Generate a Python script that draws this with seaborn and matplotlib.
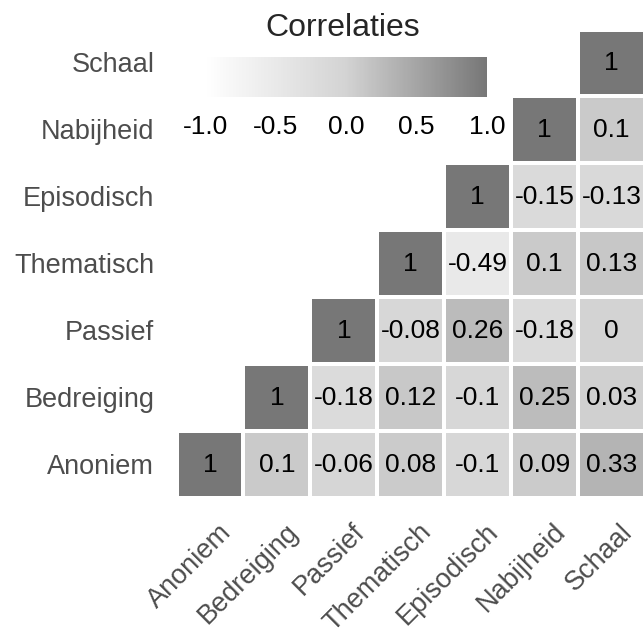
import numpy as np
import pandas as pd
import matplotlib
matplotlib.use("Agg")
import matplotlib.pyplot as plt
import seaborn as sns
from matplotlib.colors import LinearSegmentedColormap
from matplotlib.transforms import ScaledTranslation

# ---- data ----
variables = ["Anoniem", "Bedreiging", "Passief", "Thematisch",
             "Episodisch", "Nabijheid", "Schaal"]
r_anoniem = [1, 0.1, -0.06, 0.08, -0.1, 0.09, 0.33]
r_bedreiging = [1, -0.18, 0.12, -0.1, 0.25, 0.03]
r_passief = [1, -0.08, 0.26, -0.18, 0]
r_thematisch = [1, -0.49, 0.1, 0.13]
r_episodisch = [1, -0.15, -0.13]
r_nabijheid = [1, 0.1]
r_schaal = [1]
legend_ticks = [-1.0, -0.5, 0.0, 0.5, 1.0]
legend_ticklabels = ["-1.0", "-0.5", "0.0", "0.5", "1.0"]
legend_title = "Correlaties"

rows = [r_anoniem, r_bedreiging, r_passief, r_thematisch,
        r_episodisch, r_nabijheid, r_schaal]
n = len(variables)
mat = np.full((n, n), np.nan)
for i, row in enumerate(rows):
    for k, v in enumerate(row):
        j = i + k
        mat[i, j] = v
        mat[j, i] = v
df = pd.DataFrame(mat, index=variables, columns=variables)
disp = df.iloc[::-1]
mask = np.array([[j < n - 1 - r for j in range(n)] for r in range(n)])
annot = disp.map(lambda v: f"{v:g}")

sns.set_theme(style="white")
plt.rcParams["font.family"] = ["Liberation Sans", "DejaVu Sans"]
plt.rcParams["axes.unicode_minus"] = False

W, H = 644, 639
fig = plt.figure(figsize=(W / 100, H / 100), dpi=100)
fig.patch.set_facecolor("white")
ax = fig.add_axes([176.5 / W, 1 - 498 / H, 468.5 / W, 468.5 / H])
cax = fig.add_axes([205 / W, 1 - 97 / H, 282 / W, 40 / H])

cmap = LinearSegmentedColormap.from_list("grays", ["#ffffff", "#d3d3d3", "#777777"])
sns.heatmap(disp, mask=mask, cmap=cmap, vmin=-1, vmax=1,
            annot=annot, fmt="", annot_kws=dict(size=19, color="black"),
            linewidths=1.5, linecolor="white", ax=ax, cbar_ax=cax,
            cbar_kws=dict(orientation="horizontal", ticks=legend_ticks))

cbar = ax.collections[0].colorbar
cbar.outline.set_visible(False)
cbar.set_ticks(legend_ticks)
cbar.set_ticklabels(legend_ticklabels)
cax.tick_params(axis="x", direction="in", length=7, width=1.3, colors="white",
                labelcolor="black", top=True, bottom=True, labelsize=19, pad=13)

fig.text(343 / W, 1 - 28 / H, legend_title, ha="center", va="center", fontsize=23)

ax.set_xlabel("")
ax.set_ylabel("")
ax.tick_params(length=0)
ax.tick_params(axis="y", pad=16)
ax.tick_params(axis="x", pad=15)
ax.set_yticklabels(disp.index, rotation=0, color="#4d4d4d", fontsize=19.5,
                   va="center", ha="right")
ax.set_xticklabels(variables, rotation=45, ha="right", va="top",
                   rotation_mode="anchor", color="#4d4d4d", fontsize=19.5)
off = ScaledTranslation(8 / 100, 0, fig.dpi_scale_trans)
for lab in ax.get_xticklabels():
    lab.set_transform(lab.get_transform() + off)
yoff = ScaledTranslation(0, -2 / 100, fig.dpi_scale_trans)
for lab in ax.get_yticklabels():
    lab.set_transform(lab.get_transform() + yoff)

fig.savefig("out.png", dpi=100, facecolor="white")
